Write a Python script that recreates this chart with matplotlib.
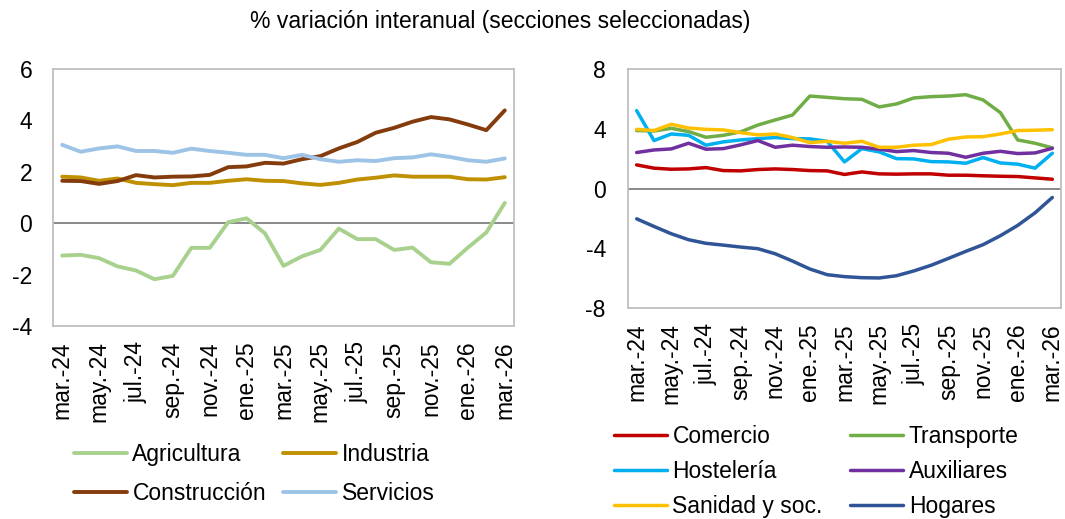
import matplotlib
matplotlib.use("Agg")
import matplotlib.pyplot as plt
import numpy as np

plt.rcParams['font.family'] = ['Liberation Sans', 'DejaVu Sans']
plt.rcParams['font.size'] = 16.5

months = ["mar.-24", "abr.-24", "may.-24", "jun.-24", "jul.-24", "ago.-24", "sep.-24", "oct.-24",
          "nov.-24", "dic.-24", "ene.-25", "feb.-25", "mar.-25", "abr.-25", "may.-25", "jun.-25",
          "jul.-25", "ago.-25", "sep.-25", "oct.-25", "nov.-25", "dic.-25", "ene.-26", "feb.-26", "mar.-26"]

agricultura = [-1.26, -1.23, -1.36, -1.68, -1.84, -2.18, -2.05, -0.96, -0.96, 0.04, 0.19, -0.40, -1.66,
               -1.29, -1.04, -0.21, -0.62, -0.62, -1.04, -0.95, -1.52, -1.58, -0.95, -0.36, 0.79]
industria = [1.81, 1.78, 1.65, 1.74, 1.57, 1.52, 1.48, 1.57, 1.57, 1.65, 1.71, 1.65, 1.64,
             1.55, 1.49, 1.57, 1.70, 1.77, 1.86, 1.81, 1.81, 1.81, 1.71, 1.70, 1.79]
construccion = [1.65, 1.64, 1.53, 1.64, 1.87, 1.78, 1.81, 1.82, 1.88, 2.18, 2.21, 2.35, 2.32,
                2.49, 2.61, 2.91, 3.16, 3.52, 3.71, 3.95, 4.13, 4.04, 3.84, 3.62, 4.39]
servicios = [3.05, 2.78, 2.91, 2.99, 2.81, 2.81, 2.74, 2.90, 2.81, 2.74, 2.66, 2.66, 2.53,
             2.66, 2.49, 2.39, 2.45, 2.42, 2.53, 2.56, 2.68, 2.58, 2.45, 2.39, 2.52]

comercio = [1.58, 1.36, 1.29, 1.31, 1.40, 1.20, 1.18, 1.27, 1.31, 1.27, 1.20, 1.18, 0.94,
            1.11, 0.98, 0.96, 0.98, 0.98, 0.89, 0.89, 0.85, 0.82, 0.80, 0.71, 0.62]
transporte = [3.88, 3.85, 4.03, 3.81, 3.43, 3.56, 3.79, 4.25, 4.59, 4.92, 6.19, 6.10, 6.01,
              5.97, 5.46, 5.66, 6.06, 6.15, 6.19, 6.28, 5.93, 5.08, 3.25, 3.03, 2.72]
hosteleria = [5.21, 3.21, 3.65, 3.56, 2.90, 3.12, 3.25, 3.34, 3.41, 3.34, 3.32, 3.16, 1.78,
              2.67, 2.45, 2.00, 1.98, 1.80, 1.78, 1.69, 2.07, 1.71, 1.63, 1.36, 2.36]
auxiliares = [2.41, 2.58, 2.65, 3.03, 2.63, 2.67, 2.92, 3.21, 2.76, 2.90, 2.81, 2.76, 2.78,
              2.76, 2.63, 2.47, 2.54, 2.41, 2.36, 2.09, 2.36, 2.49, 2.34, 2.38, 2.69]
sanidad = [3.96, 3.88, 4.30, 4.05, 3.96, 3.92, 3.74, 3.59, 3.65, 3.41, 3.07, 3.16, 3.03,
           3.16, 2.76, 2.76, 2.90, 2.94, 3.30, 3.45, 3.47, 3.65, 3.88, 3.90, 3.94]
hogares = [-2.03, -2.54, -3.03, -3.43, -3.67, -3.79, -3.92, -4.03, -4.37, -4.86, -5.39, -5.77, -5.90,
           -5.97, -5.99, -5.84, -5.52, -5.14, -4.68, -4.21, -3.76, -3.16, -2.47, -1.63, -0.60]

left_series = [("Agricultura", agricultura, "#A9D18E"),
               ("Industria", industria, "#BF9000"),
               ("Construcción", construccion, "#843C0C"),
               ("Servicios", servicios, "#9DC3E6")]
right_series = [("Comercio", comercio, "#C00000"),
                ("Transporte", transporte, "#70AD47"),
                ("Hostelería", hosteleria, "#00B0F0"),
                ("Auxiliares", auxiliares, "#7030A0"),
                ("Sanidad y soc.", sanidad, "#FFC000"),
                ("Hogares", hogares, "#2F5597")]

W, H = 1065, 519
fig = plt.figure(figsize=(W / 100, H / 100), dpi=100)

def px_axes(l, t, r, b):
    return fig.add_axes([l / W, 1 - b / H, (r - l) / W, (b - t) / H])

axL = px_axes(53, 69, 514, 326)
axR = px_axes(628, 69, 1061, 308)

x = np.arange(len(months))

def style(ax, ylim, yticks, ypad):
    ax.set_xlim(-0.5, len(months) - 0.5)
    ax.set_ylim(*ylim)
    ax.set_yticks(yticks)
    ax.set_yticklabels([str(v) for v in yticks])
    ax.set_xticks(x[::2])
    ax.set_xticklabels(months[::2], rotation=90)
    ax.tick_params(axis='both', length=0)
    ax.tick_params(axis='y', pad=ypad)
    ax.tick_params(axis='x', pad=11)
    for s in ax.spines.values():
        s.set_color("#BFBFBF")
        s.set_linewidth(1.3)
    ax.axhline(0, color="#808080", linewidth=1.3, zorder=1)

handlesL = []
for name, vals, c in left_series:
    h, = axL.plot(x, vals, color=c, linewidth=2.8, label=name, solid_capstyle='round', zorder=3)
    handlesL.append(h)
handlesR = []
for name, vals, c in right_series:
    h, = axR.plot(x, vals, color=c, linewidth=2.5, label=name, solid_capstyle='round', zorder=3)
    handlesR.append(h)

style(axL, (-4, 6), [-4, -2, 0, 2, 4, 6], 15)
style(axR, (-8, 8), [-8, -4, 0, 4, 8], 16)

fig.text(500 / W, 1 - 22 / H, "% variación interanual (secciones seleccionadas)",
         ha='center', va='center', fontsize=16.5)

def row_major(handles, ncol=2):
    # matplotlib fills legend columns first; reorder so entries read across rows
    nrow = int(np.ceil(len(handles) / ncol))
    return [handles[r * ncol + c] for c in range(ncol) for r in range(nrow)
            if r * ncol + c < len(handles)]

hL = row_major(handlesL)
hR = row_major(handlesR)
fig.legend(handles=hL, labels=[h.get_label() for h in hL], ncol=2,
           loc='upper left', bbox_to_anchor=(74 / W, 1 - 443 / H), frameon=False,
           handlelength=2.3, handletextpad=0.25, columnspacing=0.75, labelspacing=0.71,
           borderpad=0, borderaxespad=0)
fig.legend(handles=hR, labels=[h.get_label() for h in hR], ncol=2,
           loc='upper left', bbox_to_anchor=(614 / W, 1 - 425 / H), frameon=False,
           handlelength=2.3, handletextpad=0.25, columnspacing=1.2, labelspacing=0.52,
           borderpad=0, borderaxespad=0)

fig.savefig("out.png", dpi=100)
